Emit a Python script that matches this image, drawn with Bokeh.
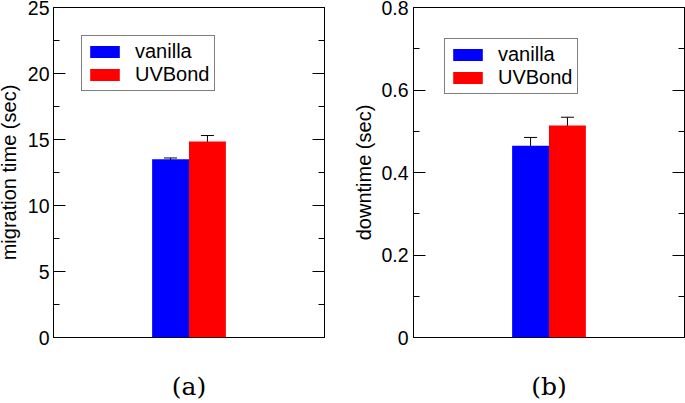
from bokeh.plotting import figure
from bokeh.models import (ColumnDataSource, FactorRange, Range1d, LinearAxis,
                          SingleIntervalTicker, Whisker)
from bokeh.layouts import row
from bokeh.embed import file_html
from bokeh.resources import INLINE

series = ["vanilla", "UVBond"]
colors = ["#0000ff", "#ff0000"]
migration_time = [13.5, 14.85]
migration_err = [0.1, 0.45]
downtime = [0.465, 0.514]
downtime_err = [0.02, 0.02]
captions = ["(a)", "(b)"]
ylabels = ["migration time (sec)", "downtime (sec)"]
ymax = [25, 0.8]
yint = [5, 0.2]

SANS = "Liberation Sans"
SERIF = "DejaVu Serif"
H = 403


def make_panel(values, errs, ylabel, caption, top, interval, width, bl, br, lmargin,
               overrides, tick_standoff, label_standoff):
    src = ColumnDataSource(dict(
        series=series, value=values, color=colors,
        upper=[v + e for v, e in zip(values, errs)],
        lower=[v - e for v, e in zip(values, errs)],
    ))
    p = figure(width=width, height=H, output_backend="svg", toolbar_location=None,
               x_range=FactorRange(*series, range_padding=2.675, range_padding_units="absolute"),
               y_range=Range1d(0, top),
               min_border_left=bl, min_border_right=br, min_border_top=7, min_border_bottom=66)
    p.grid.visible = False
    p.background_fill_color = "white"
    p.border_fill_color = "white"
    p.outline_line_color = "black"
    p.outline_line_width = 1

    p.vbar(x="series", top="value", width=1.0, source=src, fill_color="color",
           line_color=None, legend_field="series")
    w = Whisker(source=src, base="series", upper="upper", lower="lower",
                line_color="black", line_width=1)
    w.upper_head.size = 13
    w.lower_head.size = 13
    w.upper_head.line_color = "black"
    w.lower_head.line_color = "black"
    p.add_layout(w)

    ticker = SingleIntervalTicker(interval=interval, num_minor_ticks=2)
    ya = p.yaxis[0]
    ya.ticker = ticker
    ya.axis_label = ylabel
    ya.axis_label_text_font = SANS
    ya.axis_label_text_font_style = "normal"
    ya.axis_label_text_font_size = "20px"
    ya.axis_label_text_color = "black"
    ya.axis_label_standoff = label_standoff
    ya.major_label_text_font = SANS
    ya.major_label_text_font_size = "19.5px"
    ya.major_label_text_color = "black"
    ya.major_label_standoff = tick_standoff
    ya.major_tick_in = 12
    ya.major_tick_out = 0
    ya.minor_tick_in = 6
    ya.minor_tick_out = 0
    ya.major_tick_line_color = "black"
    ya.minor_tick_line_color = "black"
    ya.axis_line_color = "black"
    if overrides:
        ya.major_label_overrides = overrides

    ra = LinearAxis(ticker=ticker, major_label_text_color=None,
                    major_label_text_font_size="1px", major_label_standoff=0,
                    major_tick_in=12, major_tick_out=0, minor_tick_in=6, minor_tick_out=0,
                    major_tick_line_color="black", minor_tick_line_color="black",
                    axis_line_color="black")
    p.add_layout(ra, "right")

    xa = p.xaxis[0]
    xa.major_label_text_color = None
    xa.major_label_text_font_size = "1px"
    xa.major_label_standoff = 0
    xa.major_tick_line_color = None
    xa.minor_tick_line_color = None
    xa.axis_line_color = None
    xa.axis_label = caption
    xa.axis_label_text_font = SERIF
    xa.axis_label_text_font_style = "normal"
    xa.axis_label_text_font_size = "25px"
    xa.axis_label_text_color = "black"
    xa.axis_label_standoff = 28

    leg = p.legend[0]
    leg.location = "top_left"
    leg.margin = lmargin
    leg.padding = 4
    leg.spacing = -5
    leg.glyph_width = 37
    leg.glyph_height = 15
    leg.label_height = 15
    leg.label_standoff = 12
    leg.label_text_font = SANS
    leg.label_text_font_size = "20px"
    leg.label_text_color = "black"
    leg.border_line_color = "black"
    leg.border_line_width = 1
    leg.background_fill_alpha = 1.0
    return p


p1 = make_panel(migration_time, migration_err, ylabels[0], captions[0], ymax[0], yint[0],
                340, 60, 9, 28, None, 4, 5)
p2 = make_panel(downtime, downtime_err, ylabels[1], captions[1], ymax[1], yint[1],
                352, 80, 1, 31, {0: "0"}, 5, 3)

layout = row(p1, p2, styles={"position": "absolute", "top": "0px", "left": "-7px"})
open("out.html", "w").write(file_html(layout, INLINE))
